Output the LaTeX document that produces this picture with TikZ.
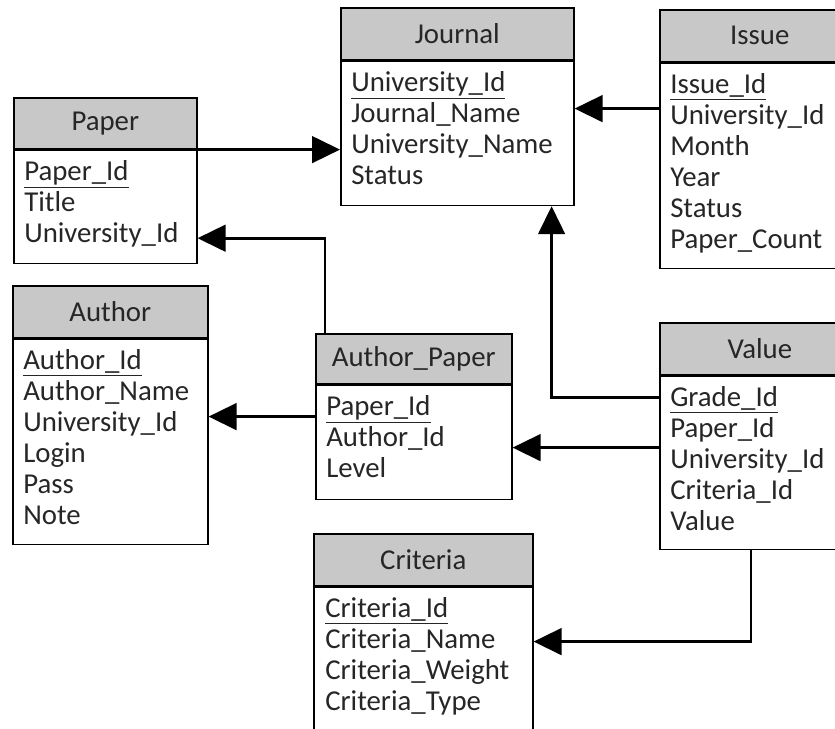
\documentclass[tikz,border=0pt]{standalone}
\usepackage{fontspec}
\setmainfont{Carlito}
\usetikzlibrary{arrows.meta,positioning,calc}
\definecolor{HeadGray}{HTML}{C8C8C8}
\newcommand{\pxu}{0.75pt}

\begin{document}
\begin{tikzpicture}[x=0.75pt,y=-0.75pt,
  head/.style={draw,line width=1.2pt,fill=HeadGray,inner sep=0pt,anchor=north west,
    font=\fontsize{21.6}{23.25}\selectfont,text=black!85},
  body/.style={draw,line width=1.2pt,inner sep=0pt,anchor=north west},
  rows/.style={align=left,inner sep=0pt,anchor=north west,
    font=\fontsize{21.6}{23.25}\selectfont,text=black!85},
  fk/.style={line width=2pt,-{Triangle[length=21pt,width=20pt]}}]
\useasboundingbox (0,0) rectangle (835,728);

% tables
\node[head,minimum width=183*\pxu,minimum height=51*\pxu] (paperH) at (13,97) {Paper};
\node[body,minimum width=183*\pxu,minimum height=113*\pxu] (paper) at (paperH.south west) {};
\node[rows] (paperT) at ($(paper.north west)+(11,11)$) {\underline{Paper\_Id}\\Title\\University\_Id};

\node[head,minimum width=233*\pxu,minimum height=52*\pxu] (journalH) at (340,7) {Journal};
\node[body,minimum width=233*\pxu,minimum height=144*\pxu] (journal) at (journalH.south west) {};
\node[rows] (journalT) at ($(journal.north west)+(11,11)$) {\underline{University\_Id}\\Journal\_Name\\University\_Name\\Status};

\node[head,minimum width=200*\pxu,minimum height=52*\pxu] (issueH) at (659,9) {Issue};
\node[body,minimum width=200*\pxu,minimum height=205*\pxu] (issue) at (issueH.south west) {};
\node[rows] (issueT) at ($(issue.north west)+(11,11)$) {\underline{Issue\_Id}\\University\_Id\\Month\\Year\\Status\\Paper\_Count};

\node[head,minimum width=195*\pxu,minimum height=52*\pxu] (authorH) at (12,285) {Author};
\node[body,minimum width=195*\pxu,minimum height=205*\pxu] (author) at (authorH.south west) {};
\node[rows] (authorT) at ($(author.north west)+(11,11)$) {\underline{Author\_Id}\\Author\_Name\\University\_Id\\Login\\Pass\\Note};

\node[head,minimum width=196*\pxu,minimum height=50*\pxu] (apH) at (315,333) {Author\_Paper};
\node[body,minimum width=196*\pxu,minimum height=114*\pxu] (ap) at (apH.south west) {};
\node[rows] (apT) at ($(ap.north west)+(11,11)$) {\underline{Paper\_Id}\\Author\_Id\\Level};

\node[head,minimum width=200*\pxu,minimum height=52*\pxu] (valueH) at (659,322) {Value};
\node[body,minimum width=200*\pxu,minimum height=173*\pxu] (value) at (valueH.south west) {};
\node[rows] (valueT) at ($(value.north west)+(11,11)$) {\underline{Grade\_Id}\\Paper\_Id\\University\_Id\\Criteria\_Id\\Value};

\node[head,minimum width=219*\pxu,minimum height=52*\pxu] (criteriaH) at (313,533) {Criteria};
\node[body,minimum width=219*\pxu,minimum height=180*\pxu] (criteria) at (criteriaH.south west) {};
\node[rows] (criteriaT) at ($(criteria.north west)+(12,11)$) {\underline{Criteria\_Id}\\Criteria\_Name\\Criteria\_Weight\\Criteria\_Type};

% links
\coordinate (apUp) at ([xshift=10*\pxu]apH.north west);
\coordinate (paperIn) at ([yshift=26*\pxu]paper.south east);
\coordinate (apOut) at ([yshift=-32*\pxu]ap.north west);
\coordinate (issueOut) at ([yshift=-46*\pxu]issue.north west);
\coordinate (valueOutA) at ([yshift=-22*\pxu]value.north west);
\coordinate (journalIn) at ([xshift=-23*\pxu]journal.south east);
\coordinate (valueOutB) at ([yshift=-72*\pxu]value.north west);
\coordinate (valueDown) at ([xshift=92*\pxu]value.south west);
\coordinate (criteriaIn) at ([yshift=-55*\pxu]criteria.north east);

\draw[fk] (paper.north east) -- (paper.north east -| journal.west);
\draw[fk] (apUp) |- (paperIn);
\draw[fk] (apOut) -- (apOut -| author.east);
\draw[fk] (issueOut) -- (issueOut -| journal.east);
\draw[fk] (valueOutA) -| (journalIn);
\draw[fk] (valueOutB) -- (valueOutB -| ap.east);
\draw[fk] (valueDown) |- (criteriaIn);
\end{tikzpicture}
\end{document}
